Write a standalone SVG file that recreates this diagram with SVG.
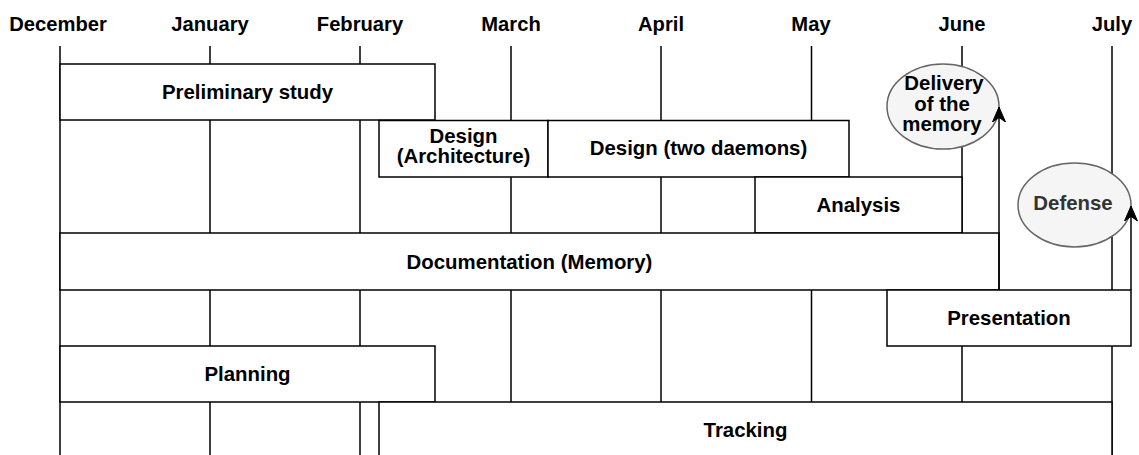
<svg xmlns="http://www.w3.org/2000/svg" width="1139" height="455" viewBox="0 0 1139 455">
  <defs>
    <style>
      .grid line { stroke: #000; stroke-width: 1.5; }
      .month { font-family: "Liberation Sans", Arial, sans-serif; font-weight: bold; font-size: 20.2px; fill: #000; text-anchor: middle; }
      .task rect { fill: #fff; stroke: #000; stroke-width: 1.5; }
      .label { font-family: "Liberation Sans", Arial, sans-serif; font-weight: bold; font-size: 20.4px; fill: #000; text-anchor: middle; }
      .milestone ellipse { fill: #f5f5f5; stroke: #666666; stroke-width: 1.5; }
      .conn { stroke: #000; stroke-width: 1.5; fill: none; }
    </style>
    <marker id="arrow" viewBox="0 0 16 14" refX="15" refY="7" markerWidth="16" markerHeight="14" markerUnits="userSpaceOnUse" orient="auto">
      <path d="M15,7 L0,0.5 L4.5,7 L0,13.5 Z" fill="#000" stroke="#000" stroke-width="1"/>
    </marker>
  </defs>

  <g id="months">
    <text class="month" x="58" y="31">December</text>
    <text class="month" x="210" y="31">January</text>
    <text class="month" x="360" y="31">February</text>
    <text class="month" x="511" y="31">March</text>
    <text class="month" x="661" y="31">April</text>
    <text class="month" x="811" y="31">May</text>
    <text class="month" x="962" y="31">June</text>
    <text class="month" x="1112" y="31">July</text>
  </g>

  <g id="grid" class="grid">
    <line x1="60" y1="46" x2="60" y2="455"/>
    <line x1="210" y1="46" x2="210" y2="455"/>
    <line x1="360" y1="46" x2="360" y2="455"/>
    <line x1="511" y1="46" x2="511" y2="455"/>
    <line x1="661" y1="46" x2="661" y2="455"/>
    <line x1="811.5" y1="46" x2="811.5" y2="455"/>
    <line x1="962" y1="46" x2="962" y2="455"/>
    <line x1="1112" y1="46" x2="1112" y2="455"/>
  </g>

  <g id="preliminary-study" class="task">
    <rect x="60" y="64" width="375" height="56"/>
    <text class="label" x="247.5" y="99">Preliminary study</text>
  </g>

  <g id="design-architecture" class="task">
    <rect x="379" y="120.5" width="169" height="56.5"/>
    <text class="label" x="463.5" y="143">Design</text>
    <text class="label" x="463.5" y="163">(Architecture)</text>
  </g>

  <g id="design-two-daemons" class="task">
    <rect x="548" y="120.5" width="301" height="56.5"/>
    <text class="label" x="698.5" y="155">Design (two daemons)</text>
  </g>

  <g id="analysis" class="task">
    <rect x="755" y="177" width="207" height="56"/>
    <text class="label" x="858.5" y="212">Analysis</text>
  </g>

  <g id="documentation" class="task">
    <rect x="60" y="233" width="939" height="57"/>
    <text class="label" x="529.5" y="269">Documentation (Memory)</text>
  </g>

  <g id="presentation" class="task">
    <rect x="887" y="290" width="244" height="56"/>
    <text class="label" x="1009" y="325">Presentation</text>
  </g>

  <g id="planning" class="task">
    <rect x="60" y="346" width="375" height="56"/>
    <text class="label" x="247.5" y="381">Planning</text>
  </g>

  <g id="tracking" class="task">
    <rect x="379" y="402" width="733" height="58"/>
    <text class="label" x="745.5" y="437">Tracking</text>
  </g>

  <g id="delivery-of-the-memory" class="milestone">
    <ellipse cx="943" cy="106.5" rx="56" ry="42.5"/>
    <text class="label" x="944" y="90">Delivery</text>
    <text class="label" x="942" y="110.5">of the</text>
    <text class="label" x="942" y="131">memory</text>
  </g>

  <g id="defense" class="milestone">
    <ellipse cx="1074.5" cy="205" rx="56.5" ry="42"/>
    <text class="label" x="1073" y="210" style="fill:#333333">Defense</text>
  </g>

  <g id="connectors">
    <path class="conn" d="M999,290 L999,107" marker-end="url(#arrow)"/>
    <path class="conn" d="M1131,290 L1131,206" marker-end="url(#arrow)"/>
  </g>
</svg>
